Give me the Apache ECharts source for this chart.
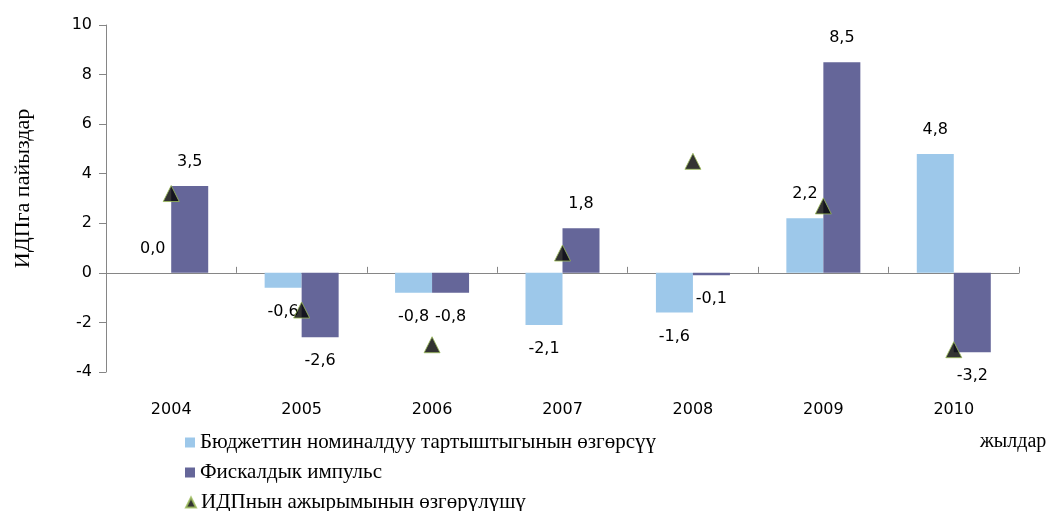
<!DOCTYPE html>
<html>
<head>
<meta charset="utf-8">
<script src="https://cdn.jsdelivr.net/npm/echarts@6/dist/echarts.min.js"></script>
<style>
  html, body { margin: 0; padding: 0; background: #fff; }
  #chart { width: 1050px; height: 511px; }
</style>
</head>
<body>
<div id="chart"></div>
<script>
// data
const years = ['2004', '2005', '2006', '2007', '2008', '2009', '2010']
const budgetDeficitChange = [0.0, -0.6, -0.8, -2.1, -1.6, 2.2, 4.8]
const fiscalImpulse = [3.5, -2.6, -0.8, 1.8, -0.1, 8.5, -3.2]
const gapChange = [3.2, -1.5, -2.9, 0.8, 4.5, 2.7, -3.1]

const seriesNames = [
  'Бюджеттин номиналдуу тартыштыгынын өзгөрсүү',
  'Фискалдык импульс',
  'ИДПнын ажырымынын өзгөрүлүшү'
]
const legendIcons = ['rect', 'rect', 'triangle']

const sansFont = '"DejaVu Sans", Verdana, sans-serif'
const serifFont = '"Liberation Serif", "Times New Roman", serif'
const axisColor = '#868686'

function fmt(v) {
  return v.toFixed(1).replace('.', ',')
}

function barData(values) {
  return values.map(v => ({
    value: v,
    label: { position: v >= 0 ? 'top' : 'bottom' }
  }))
}

// one legend per row, so the column never wraps at the bottom edge
const legends = seriesNames.map((name, i) => ({
  orient: 'vertical',
  left: 180,
  top: 427 + i * 30,
  itemWidth: 10,
  itemHeight: 10,
  itemGap: 4,
  textStyle: {
    fontFamily: serifFont,
    fontSize: 21,
    lineHeight: 20,
    color: '#000'
  },
  data: [{ name: name, icon: legendIcons[i] }]
}))

const chart = echarts.init(document.getElementById('chart'))

chart.setOption({
  animation: false,
  grid: {
    left: 106,
    right: 31,
    top: 25,
    bottom: 139
  },
  legend: legends,
  xAxis: {
    type: 'category',
    data: years,
    axisLine: {
      onZero: true,
      lineStyle: { color: axisColor, width: 1 }
    },
    axisTick: {
      show: true,
      inside: true,
      length: 6,
      lineStyle: { color: axisColor }
    },
    axisLabel: {
      margin: 30,
      fontFamily: sansFont,
      fontSize: 16,
      color: '#000'
    }
  },
  yAxis: {
    type: 'value',
    min: -4,
    max: 10,
    interval: 2,
    name: 'ИДПга пайыздар',
    nameLocation: 'middle',
    nameGap: 72,
    nameTextStyle: {
      fontFamily: serifFont,
      fontSize: 22,
      color: '#000',
      padding: [0, 0, 0, 20]
    },
    axisLine: {
      show: true,
      lineStyle: { color: axisColor, width: 1 }
    },
    axisTick: {
      show: true,
      length: 7,
      lineStyle: { color: axisColor }
    },
    axisLabel: {
      margin: 14,
      fontFamily: sansFont,
      fontSize: 16,
      color: '#000'
    },
    splitLine: { show: false }
  },
  graphic: [
    {
      type: 'text',
      left: 980,
      top: 432,
      style: {
        text: 'жылдар',
        font: '20px ' + serifFont,
        fill: '#000'
      }
    }
  ],
  series: [
    {
      name: seriesNames[0],
      type: 'bar',
      barWidth: 37,
      barGap: '0%',
      itemStyle: { color: '#9dc8ea' },
      label: {
        show: true,
        distance: 16,
        fontFamily: sansFont,
        fontSize: 16,
        color: '#000',
        formatter: p => fmt(p.value)
      },
      data: barData(budgetDeficitChange)
    },
    {
      name: seriesNames[1],
      type: 'bar',
      barWidth: 37,
      barGap: '0%',
      itemStyle: { color: '#656699' },
      label: {
        show: true,
        distance: 16,
        fontFamily: sansFont,
        fontSize: 16,
        color: '#000',
        formatter: p => fmt(p.value)
      },
      data: barData(fiscalImpulse)
    },
    {
      name: seriesNames[2],
      type: 'scatter',
      symbol: 'triangle',
      symbolSize: 16,
      itemStyle: {
        color: '#000',
        borderColor: '#9bbb59',
        borderWidth: 1
      },
      z: 5,
      data: gapChange
    }
  ]
})
</script>
</body>
</html>
